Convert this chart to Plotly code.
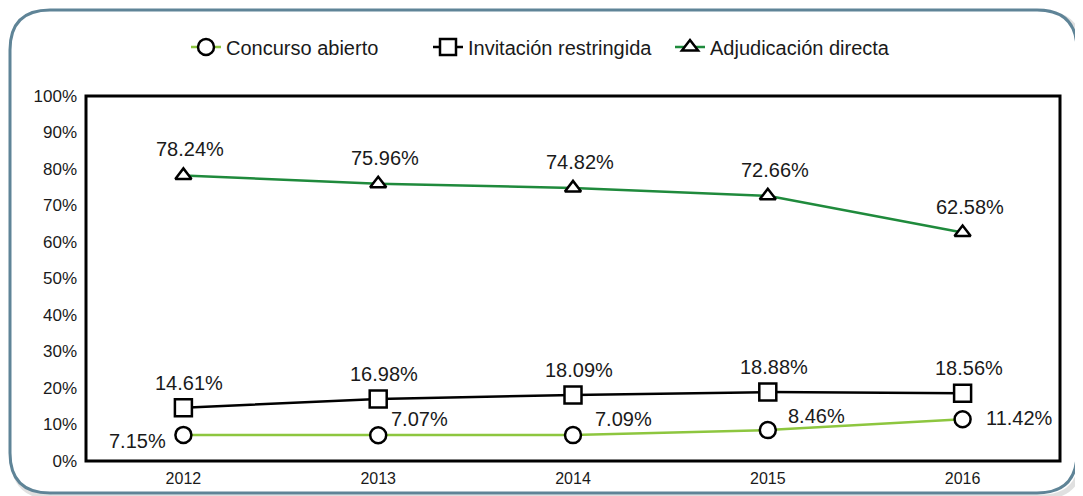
import plotly.graph_objects as go

years = ["2012", "2013", "2014", "2015", "2016"]
concurso = [7.15, 7.07, 7.09, 8.46, 11.42]
invitacion = [14.61, 16.98, 18.09, 18.88, 18.56]
adjudicacion = [78.24, 75.96, 74.82, 72.66, 62.58]
y_ticks = list(range(0, 101, 10))

# page offset (body margin of the html page)
OFF = 8
W, H = 1083 - OFF, 496 - OFF
L, R, T, B = 86 - OFF, 23, 96 - OFF, 35
PW, PH = W - L - R, H - T - B

def px(x):
    return (x - OFF - L) / PW

def py(y):
    return (H - B - (y - OFF)) / PH

FONT = "Liberation Sans, Arial, sans-serif"
TXT = "#1a1a1a"

fig = go.Figure()
marker_common = dict(color="white", line=dict(color="black", width=2.5))

fig.add_trace(go.Scatter(
    x=years, y=concurso, name="Concurso abierto", mode="lines+markers",
    line=dict(color="#8dc63f", width=2.5),
    marker=dict(symbol="circle", size=16, **marker_common),
))
fig.add_trace(go.Scatter(
    x=years, y=invitacion, name="Invitación restringida", mode="lines+markers",
    line=dict(color="black", width=2.5),
    marker=dict(symbol="square", size=17, **marker_common),
))
fig.add_trace(go.Scatter(
    x=years, y=adjudicacion, name="Adjudicación directa", mode="lines+markers",
    line=dict(color="#1f8a3c", width=2.5),
    marker=dict(symbol="triangle-up", size=14, **marker_common),
))

# value labels (placed at the data points through the axes, offset in pixels)
# x given as category index (numeric-looking category names are read as numbers)
lab_font = dict(size=20, color=TXT, family=FONT)
for i, v in enumerate(adjudicacion):
    fig.add_annotation(x=i, y=v, xref="x", yref="y", text=f"{v:.2f}%", showarrow=False,
                       font=lab_font, xanchor="center", yanchor="middle", xshift=7, yshift=26)
for i, v in enumerate(invitacion):
    fig.add_annotation(x=i, y=v, xref="x", yref="y", text=f"{v:.2f}%", showarrow=False,
                       font=lab_font, xanchor="center", yanchor="middle", xshift=6, yshift=25)
c_anchor = ["right", "left", "left", "left", "left"]
c_dx = [-15, 11, 20, 18, 21]
c_dy = [-6, 16, 16, 14, 1]
for i, (v, a, dx, dy) in enumerate(zip(concurso, c_anchor, c_dx, c_dy)):
    fig.add_annotation(x=i, y=v, xref="x", yref="y", text=f"{v:.2f}%", showarrow=False,
                       font=lab_font, xanchor=a, yanchor="middle", xshift=dx, yshift=dy)

def rounded(xa, ya, xb, yb, r):
    x0, x1 = px(xa), px(xb)
    y0, y1 = py(yb), py(ya)
    rx, ry = r / PW, r / PH
    return (f"M {x0+rx},{y1} L {x1-rx},{y1} Q {x1},{y1} {x1},{y1-ry} "
            f"L {x1},{y0+ry} Q {x1},{y0} {x1-rx},{y0} L {x0+rx},{y0} "
            f"Q {x0},{y0} {x0},{y0+ry} L {x0},{y1-ry} Q {x0},{y1} {x0+rx},{y1} Z")

# shadow + outer rounded frame
fig.add_shape(type="path", path=rounded(13, 13, 1081, 497, 40), xref="paper", yref="paper",
              line=dict(color="rgba(0,0,0,0.12)", width=5), fillcolor="rgba(0,0,0,0)", layer="below")
fig.add_shape(type="path", path=rounded(10, 10, 1077, 493, 40), xref="paper", yref="paper",
              line=dict(color="#5f8497", width=3), fillcolor="white", layer="below")
fig.add_shape(type="rect", xref="paper", yref="paper", x0=0, x1=1, y0=0, y1=1,
              line=dict(color="black", width=3))

fig.update_layout(
    width=W, height=H,
    margin=dict(l=L, r=R, t=T, b=B, autoexpand=False),
    paper_bgcolor="white",
    plot_bgcolor="#e5f3fb",
    font=dict(family=FONT, color=TXT),
    showlegend=True,
    legend=dict(orientation="h", x=px(186), y=py(47), yanchor="middle", xanchor="left",
                font=dict(size=20, family=FONT, color=TXT), bgcolor="rgba(0,0,0,0)",
                entrywidth=197, entrywidthmode="pixels", itemwidth=30),
    xaxis=dict(type="category", range=[-0.5, 4.5], showgrid=False, zeroline=False,
               automargin=False, ticks="", ticklabelstandoff=6, tickfont=dict(size=16)),
    yaxis=dict(range=[0, 100], tickvals=y_ticks, ticktext=[f"{v}%" for v in y_ticks],
               showgrid=False, zeroline=False, automargin=False, ticks="",
               ticklabelstandoff=8, tickfont=dict(size=17)),
)

fig.write_html("out.html")
